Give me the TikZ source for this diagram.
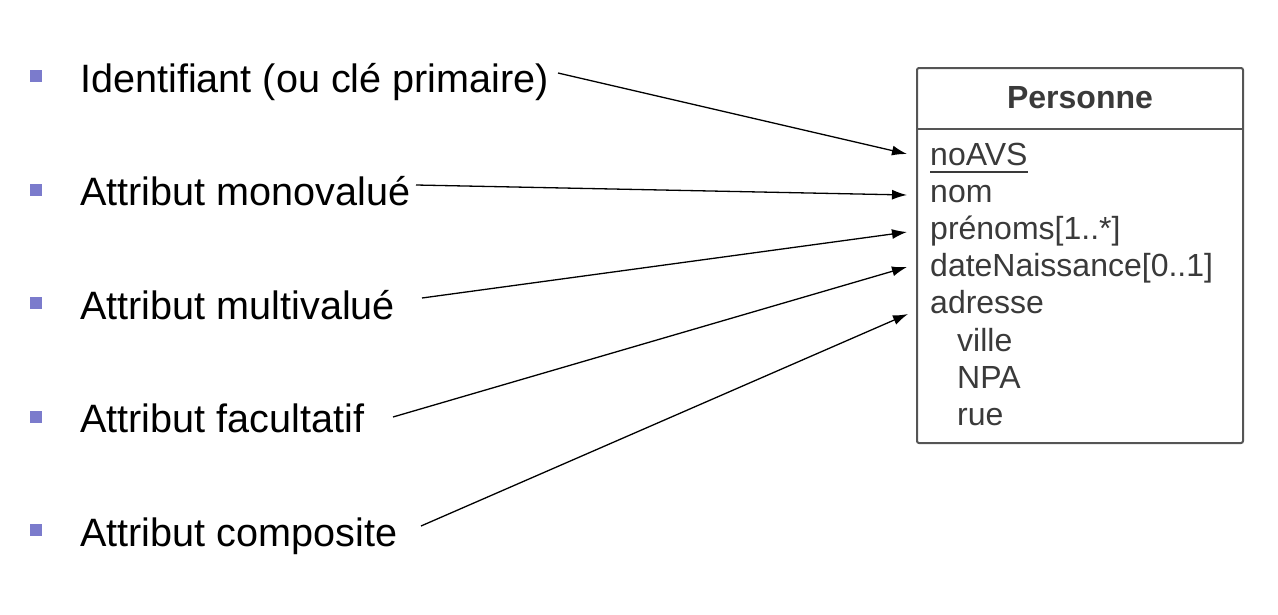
\documentclass[tikz,border=0pt]{standalone}
\usepackage{fontspec}
\setmainfont{Liberation Sans}
\usetikzlibrary{arrows.meta}
\definecolor{bulletc}{HTML}{7B7BCC}
\definecolor{boxline}{HTML}{555555}
\definecolor{attrtext}{HTML}{3A3A3A}
\begin{document}
\begin{tikzpicture}[x=1pt,y=-1pt,
  bulletsq/.style={fill=bulletc,draw=none,minimum size=12pt,inner sep=0pt},
  itemtext/.style={anchor=base west,inner sep=0pt,font=\fontsize{39.6}{44}\selectfont},
  attr/.style={anchor=base west,inner sep=0pt,text=attrtext,font=\fontsize{32}{36}\selectfont},
  pointer/.style={line width=1.3pt,-{Latex[length=15pt,width=10pt]}}]
\useasboundingbox (0,0) rectangle (1278,614);
% bullets and items
\node[bulletsq] (b1) at (36,76) {};
\node[bulletsq] (b2) at (36,189.5) {};
\node[bulletsq] (b3) at (36,303) {};
\node[bulletsq] (b4) at (36,416.5) {};
\node[bulletsq] (b5) at (36,530) {};
\node[itemtext] (t1) at (80,92) {Identifiant (ou clé primaire)};
\node[itemtext] (t2) at (80,205.5) {Attribut monovalué};
\node[itemtext] (t3) at (80,319) {Attribut multivalué};
\node[itemtext] (t4) at (80,432.5) {Attribut facultatif};
\node[itemtext] (t5) at (80,546) {Attribut composite};
% class box
\draw[boxline,line width=2pt,rounded corners=2pt] (917,68) rectangle (1243,443);
\draw[boxline,line width=2pt] (917,128.5) -- (1243,128.5);
\node[anchor=base,inner sep=0pt,text=attrtext,font=\fontsize{32}{36}\selectfont\bfseries] (title) at (1080,108) {Personne};
\node[attr] (a1) at (930,165.5) {noAVS};
\draw[attrtext,line width=1.6pt] (930,172) -- (1028,172);
\node[attr] (a2) at (930,202.6) {nom};
\node[attr] (a3) at (930,239.7) {prénoms[1..*]};
\node[attr] (a4) at (930,276.8) {dateNaissance[0..1]};
\node[attr] (a5) at (930,313.9) {adresse};
\node[attr] (a6) at (957,351) {ville};
\node[attr] (a7) at (957,388.1) {NPA};
\node[attr] (a8) at (957,425.2) {rue};
% arrow ends
\coordinate (s1) at (558,73);
\coordinate (s2) at (416,185);
\coordinate (s3) at (422,298);
\coordinate (s4) at (393,417);
\coordinate (s5) at (421,526);
\coordinate (e1) at (907,154);
\coordinate (e2) at (907,195);
\coordinate (e3) at (907,232);
\coordinate (e4) at (907,267);
\coordinate (e5) at (908,314);
\draw[pointer] (s1) -- (e1);
\draw[pointer] (s2) -- (e2);
\draw[pointer] (s3) -- (e3);
\draw[pointer] (s4) -- (e4);
\draw[pointer] (s5) -- (e5);
\end{tikzpicture}
\end{document}
